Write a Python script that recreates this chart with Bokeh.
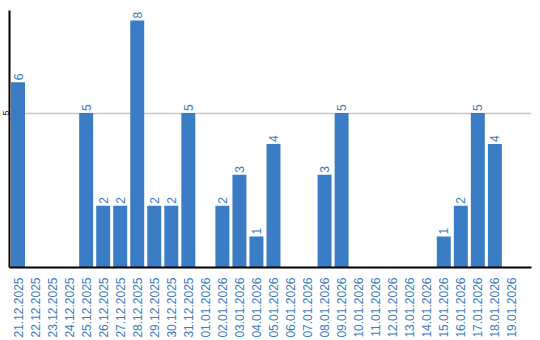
import math
from bokeh.plotting import figure
from bokeh.models import ColumnDataSource, FixedTicker
from bokeh.core.properties import value
from bokeh.embed import file_html
from bokeh.resources import INLINE

dates = ["21.12.2025", "22.12.2025", "23.12.2025", "24.12.2025", "25.12.2025",
         "26.12.2025", "27.12.2025", "28.12.2025", "29.12.2025", "30.12.2025",
         "31.12.2025", "01.01.2026", "02.01.2026", "03.01.2026", "04.01.2026",
         "05.01.2026", "06.01.2026", "07.01.2026", "08.01.2026", "09.01.2026",
         "10.01.2026", "11.01.2026", "12.01.2026", "13.01.2026", "14.01.2026",
         "15.01.2026", "16.01.2026", "17.01.2026", "18.01.2026", "19.01.2026"]
counts = [6, 0, 0, 0, 5, 2, 2, 8, 2, 2, 5, 0, 2, 3, 1, 4, 0, 0, 3, 5,
          0, 0, 0, 0, 0, 1, 2, 5, 4, 0]
y_ticks = [5]

BLUE = "#3b7dc4"
FONT = "Liberation Sans"

idx = list(range(len(dates)))
src = ColumnDataSource(dict(x=idx, y=counts))
lab_x = [i for i, c in zip(idx, counts) if c > 0]
lab_y = [c for c in counts if c > 0]
lab_src = ColumnDataSource(dict(x=lab_x, y=lab_y, t=[str(c) for c in lab_y]))

p = figure(width=540, height=340, output_backend="svg", toolbar_location=None,
           x_range=(-0.5, 30.15), y_range=(0, 8.32),
           min_border_left=0, min_border_right=9, min_border_top=10,
           min_border_bottom=70)
p.outline_line_color = None
p.background_fill_color = "white"
p.border_fill_color = "white"

p.vbar(x="x", top="y", width=0.82, source=src, color=BLUE, line_color=None)
p.text(x="x", y="y", text="t", source=lab_src, angle=math.pi / 2,
       text_align="left", text_baseline="middle", x_offset=0, y_offset=-2,
       text_color=BLUE, text_font=value(FONT), text_font_size="12px")

p.xgrid.grid_line_color = None
p.ygrid.ticker = FixedTicker(ticks=y_ticks)
p.ygrid.grid_line_color = "#c8c8c8"
p.ygrid.grid_line_width = 1.5

p.xaxis.ticker = FixedTicker(ticks=idx)
p.xaxis.major_label_overrides = {i: d for i, d in zip(idx, dates)}
p.xaxis.major_label_orientation = math.pi / 2
p.xaxis.major_label_text_color = BLUE
p.xaxis.major_label_text_font = FONT
p.xaxis.major_label_text_font_size = "12px"
p.xaxis.major_tick_line_color = None
p.xaxis.minor_tick_line_color = None
p.xaxis.major_label_standoff = 4
p.xaxis.axis_line_color = "black"
p.xaxis.axis_line_width = 2

p.yaxis.ticker = FixedTicker(ticks=y_ticks)
p.yaxis.major_label_orientation = "vertical"
p.yaxis.major_label_text_color = "black"
p.yaxis.major_label_text_font = FONT
p.yaxis.major_label_text_font_size = "9px"
p.yaxis.major_tick_line_color = None
p.yaxis.minor_tick_line_color = None
p.yaxis.major_tick_out = 0
p.yaxis.major_tick_in = 0
p.yaxis.major_label_standoff = 0
p.yaxis.axis_line_color = "black"
p.yaxis.axis_line_width = 2

open("out.html", "w").write(file_html(p, INLINE))
